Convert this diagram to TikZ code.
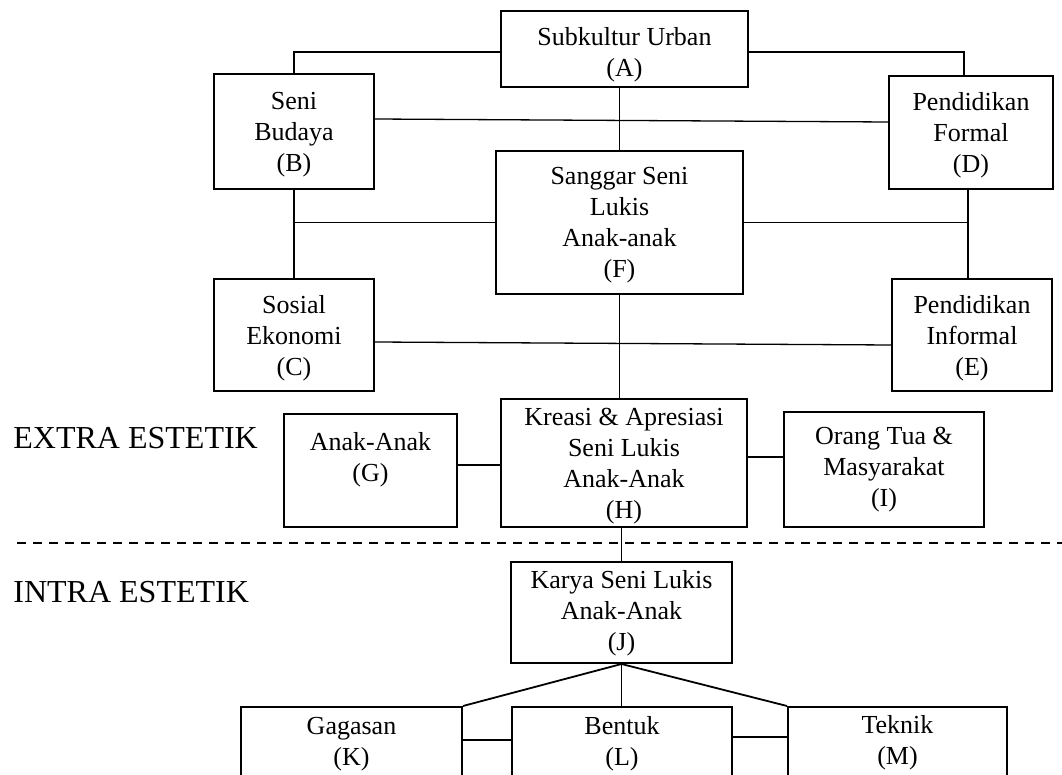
\documentclass[tikz,border=0pt]{standalone}
\usepackage{fontspec}
\setmainfont{Liberation Serif}
\usetikzlibrary{positioning}

\begin{document}
\begin{tikzpicture}[
    x=0.5pt, y=-0.5pt,
    box/.style={draw, line width=1pt, inner sep=0pt},
    txt/.style={align=center, inner sep=0pt, font=\fontsize{13}{15.5}\selectfont},
    side/.style={anchor=base west, inner sep=0pt, font=\fontsize{16}{19}\selectfont},
    link/.style={line width=0.65pt},
    heavy/.style={line width=0.9pt},
    sep/.style={line width=0.6pt, dash pattern=on 4.5pt off 3.5pt},
]
\useasboundingbox (0,0) rectangle (1062,775);
\clip (0,0) rectangle (1062,775);

% boxes
\node[box, minimum width=123.5pt, minimum height=38pt] (urban) at (624.5,49) {};
\node[box, minimum width=80pt, minimum height=57.5pt] (budaya) at (294,131.5) {};
\node[box, minimum width=82pt, minimum height=56.5pt] (formal) at (971,132.5) {};
\node[box, minimum width=123.5pt, minimum height=71.5pt] (sanggar) at (619.5,222.5) {};
\node[box, minimum width=80pt, minimum height=56pt] (sosial) at (294,335) {};
\node[box, minimum width=80pt, minimum height=56pt] (informal) at (972,335) {};
\node[box, minimum width=86.5pt, minimum height=56.5pt] (anak) at (370.5,470.5) {};
\node[box, minimum width=123pt, minimum height=64pt] (kreasi) at (624,463) {};
\node[box, minimum width=100pt, minimum height=57.5pt] (ortu) at (884,469.5) {};
\node[box, minimum width=110.5pt, minimum height=50.5pt] (karya) at (621.5,612.5) {};
\node[box, minimum width=110.5pt, minimum height=46.5pt] (gagasan) at (351.5,753.5) {};
\node[box, minimum width=110pt, minimum height=46.5pt] (bentuk) at (622,753.5) {};
\node[box, minimum width=109.5pt, minimum height=46.5pt] (teknik) at (897.5,753.5) {};

% texts
\node[txt, below=8.7pt of urban.north] (urban-t) {Subkultur Urban\\(A)};
\node[txt, below=9.2pt of budaya.north] (budaya-t) {Seni\\Budaya\\(B)};
\node[txt, below=8.7pt of formal.north] (formal-t) {Pendidikan\\Formal\\(D)};
\node[txt, below=8.2pt of sanggar.north] (sanggar-t) {Sanggar Seni\\Lukis\\Anak-anak\\(F)};
\node[txt, below=8.7pt of sosial.north] (sosial-t) {Sosial\\Ekonomi\\(C)};
\node[txt, below=8.7pt of informal.north] (informal-t) {Pendidikan\\Informal\\(E)};
\node[txt, below=9.7pt of anak.north] (anak-t) {Anak-Anak\\(G)};
\node[txt, below=4.7pt of kreasi.north] (kreasi-t) {Kreasi \& Apresiasi\\Seni Lukis\\Anak-Anak\\(H)};
\node[txt, below=7.7pt of ortu.north] (ortu-t) {Orang Tua \&\\Masyarakat\\(I)};
\node[txt, below=4.7pt of karya.north] (karya-t) {Karya Seni Lukis\\Anak-Anak\\(J)};
\node[txt, below=5.2pt of gagasan.north] (gagasan-t) {Gagasan\\(K)};
\node[txt, below=5.2pt of bentuk.north] (bentuk-t) {Bentuk\\(L)};
\node[txt, below=4.5pt of teknik.north] (teknik-t) {Teknik\\(M)};

\node[side] (extra) at (13,449) {EXTRA ESTETIK};
\node[side] (intra) at (13,603) {INTRA ESTETIK};

% dashed divider
\coordinate (sepl) at (17,543);
\coordinate (sepr) at (1062,543);
\draw[sep] (sepl) -- (sepr);

% link points
\coordinate (de) at ([xshift=-1.5pt]formal.south);
\coordinate (gh) at ([yshift=2.75pt]anak.east);
\coordinate (ih) at ([yshift=6.25pt]ortu.west);
\coordinate (kl) at ([yshift=6.75pt]gagasan.east);
\coordinate (ml) at ([yshift=8.25pt]teknik.west);

% links
\draw[link] ([yshift=-1.5pt]urban.west) -| (budaya.north);
\draw[link] ([yshift=-1.5pt]urban.east) -| ([xshift=-3.5pt]formal.north);
\draw[link] (sanggar.north) -- (sanggar.north |- urban.south);
\draw[link] ([yshift=6.25pt]budaya.east) -- ([yshift=5.25pt]formal.west);
\draw[link] (budaya.south) -- (sosial.north);
\draw[link] (sanggar.west) -- (sanggar.west -| budaya.south);
\draw[link] (de) -- (de |- informal.north);
\draw[link] (sanggar.east) -- (sanggar.east -| de);
\draw[link] ([yshift=-3.5pt]sosial.east) -- ([yshift=-5pt]informal.west);
\draw[heavy] (sanggar.south) -- (sanggar.south |- kreasi.north);
\draw[heavy] (gh) -- (gh -| kreasi.west);
\draw[heavy] (ih) -- (ih -| kreasi.east);
\draw[heavy] (karya.north) -- (karya.north |- kreasi.south);
\draw[heavy] (karya.south) -- (gagasan.north east);
\draw[heavy] (karya.south) -- (karya.south |- bentuk.north);
\draw[heavy] (karya.south) -- (teknik.north west);
\draw[heavy] (kl) -- (kl -| bentuk.west);
\draw[heavy] (ml) -- (ml -| bentuk.east);

\end{tikzpicture}
\end{document}
